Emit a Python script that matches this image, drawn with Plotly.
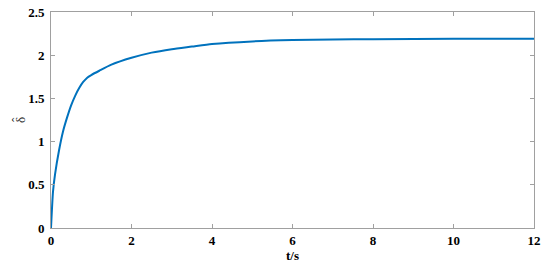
import plotly.graph_objects as go

# step response of the estimate
t_s = [0, 0.05, 0.1, 0.2, 0.3, 0.4, 0.5, 0.6, 0.7, 0.8, 0.9, 1.0, 1.2, 1.5,
       2.0, 2.5, 3.0, 3.5, 4.0, 5.0, 6.0, 7.0, 8.0, 10.0, 12.0]
delta_hat = [0, 0.42, 0.62, 0.90, 1.12, 1.28, 1.42, 1.53, 1.62, 1.69, 1.74,
             1.77, 1.82, 1.89, 1.97, 2.03, 2.07, 2.10, 2.13, 2.16, 2.175,
             2.182, 2.186, 2.189, 2.19]

x_ticks = [0, 2, 4, 6, 8, 10, 12]
y_ticks = [0, 0.5, 1, 1.5, 2, 2.5]

tick_font = dict(family="Liberation Serif", size=13, color="black", weight="bold")

fig = go.Figure()
fig.add_trace(go.Scatter(
    x=t_s, y=delta_hat, mode="lines",
    line=dict(color="#0072BD", width=2, shape="spline", smoothing=0.6),
    showlegend=False,
))

axis_common = dict(
    showgrid=False, zeroline=False, showline=True, mirror="ticks",
    linecolor="#a0a0a0", linewidth=1, ticks="inside", ticklen=4,
    tickcolor="#a0a0a0", tickfont=tick_font, automargin=False,
)

fig.update_layout(
    width=550, height=265,
    margin=dict(l=51, r=16, t=12, b=37),
    paper_bgcolor="white", plot_bgcolor="white",
    font=dict(family="Liberation Serif", size=13, color="black"),
    xaxis=dict(**axis_common, range=[0, 12], tickvals=x_ticks,
               title=dict(text="<b>t/s</b>", standoff=0,
                          font=dict(family="Liberation Serif", size=13))),
    yaxis=dict(**axis_common, range=[0, 2.5], tickvals=y_ticks,
               ticklabelstandoff=3),
)

# y-axis label: delta with a hat, both rotated like the original
ylab = dict(textangle=-90, showarrow=False, xref="paper", yref="paper",
            x=0, y=0.5, xanchor="center", yanchor="middle",
            font=dict(family="Liberation Serif", size=13, color="#333"))
fig.add_annotation(text="δ", xshift=-31, **ylab)
fig.add_annotation(text="ˆ", xshift=-35, **ylab)

# drop the default page margin so the figure sits at the window corner
fig.write_html("out.html", config={"displayModeBar": False},
               post_script="document.body.style.margin='0';")
